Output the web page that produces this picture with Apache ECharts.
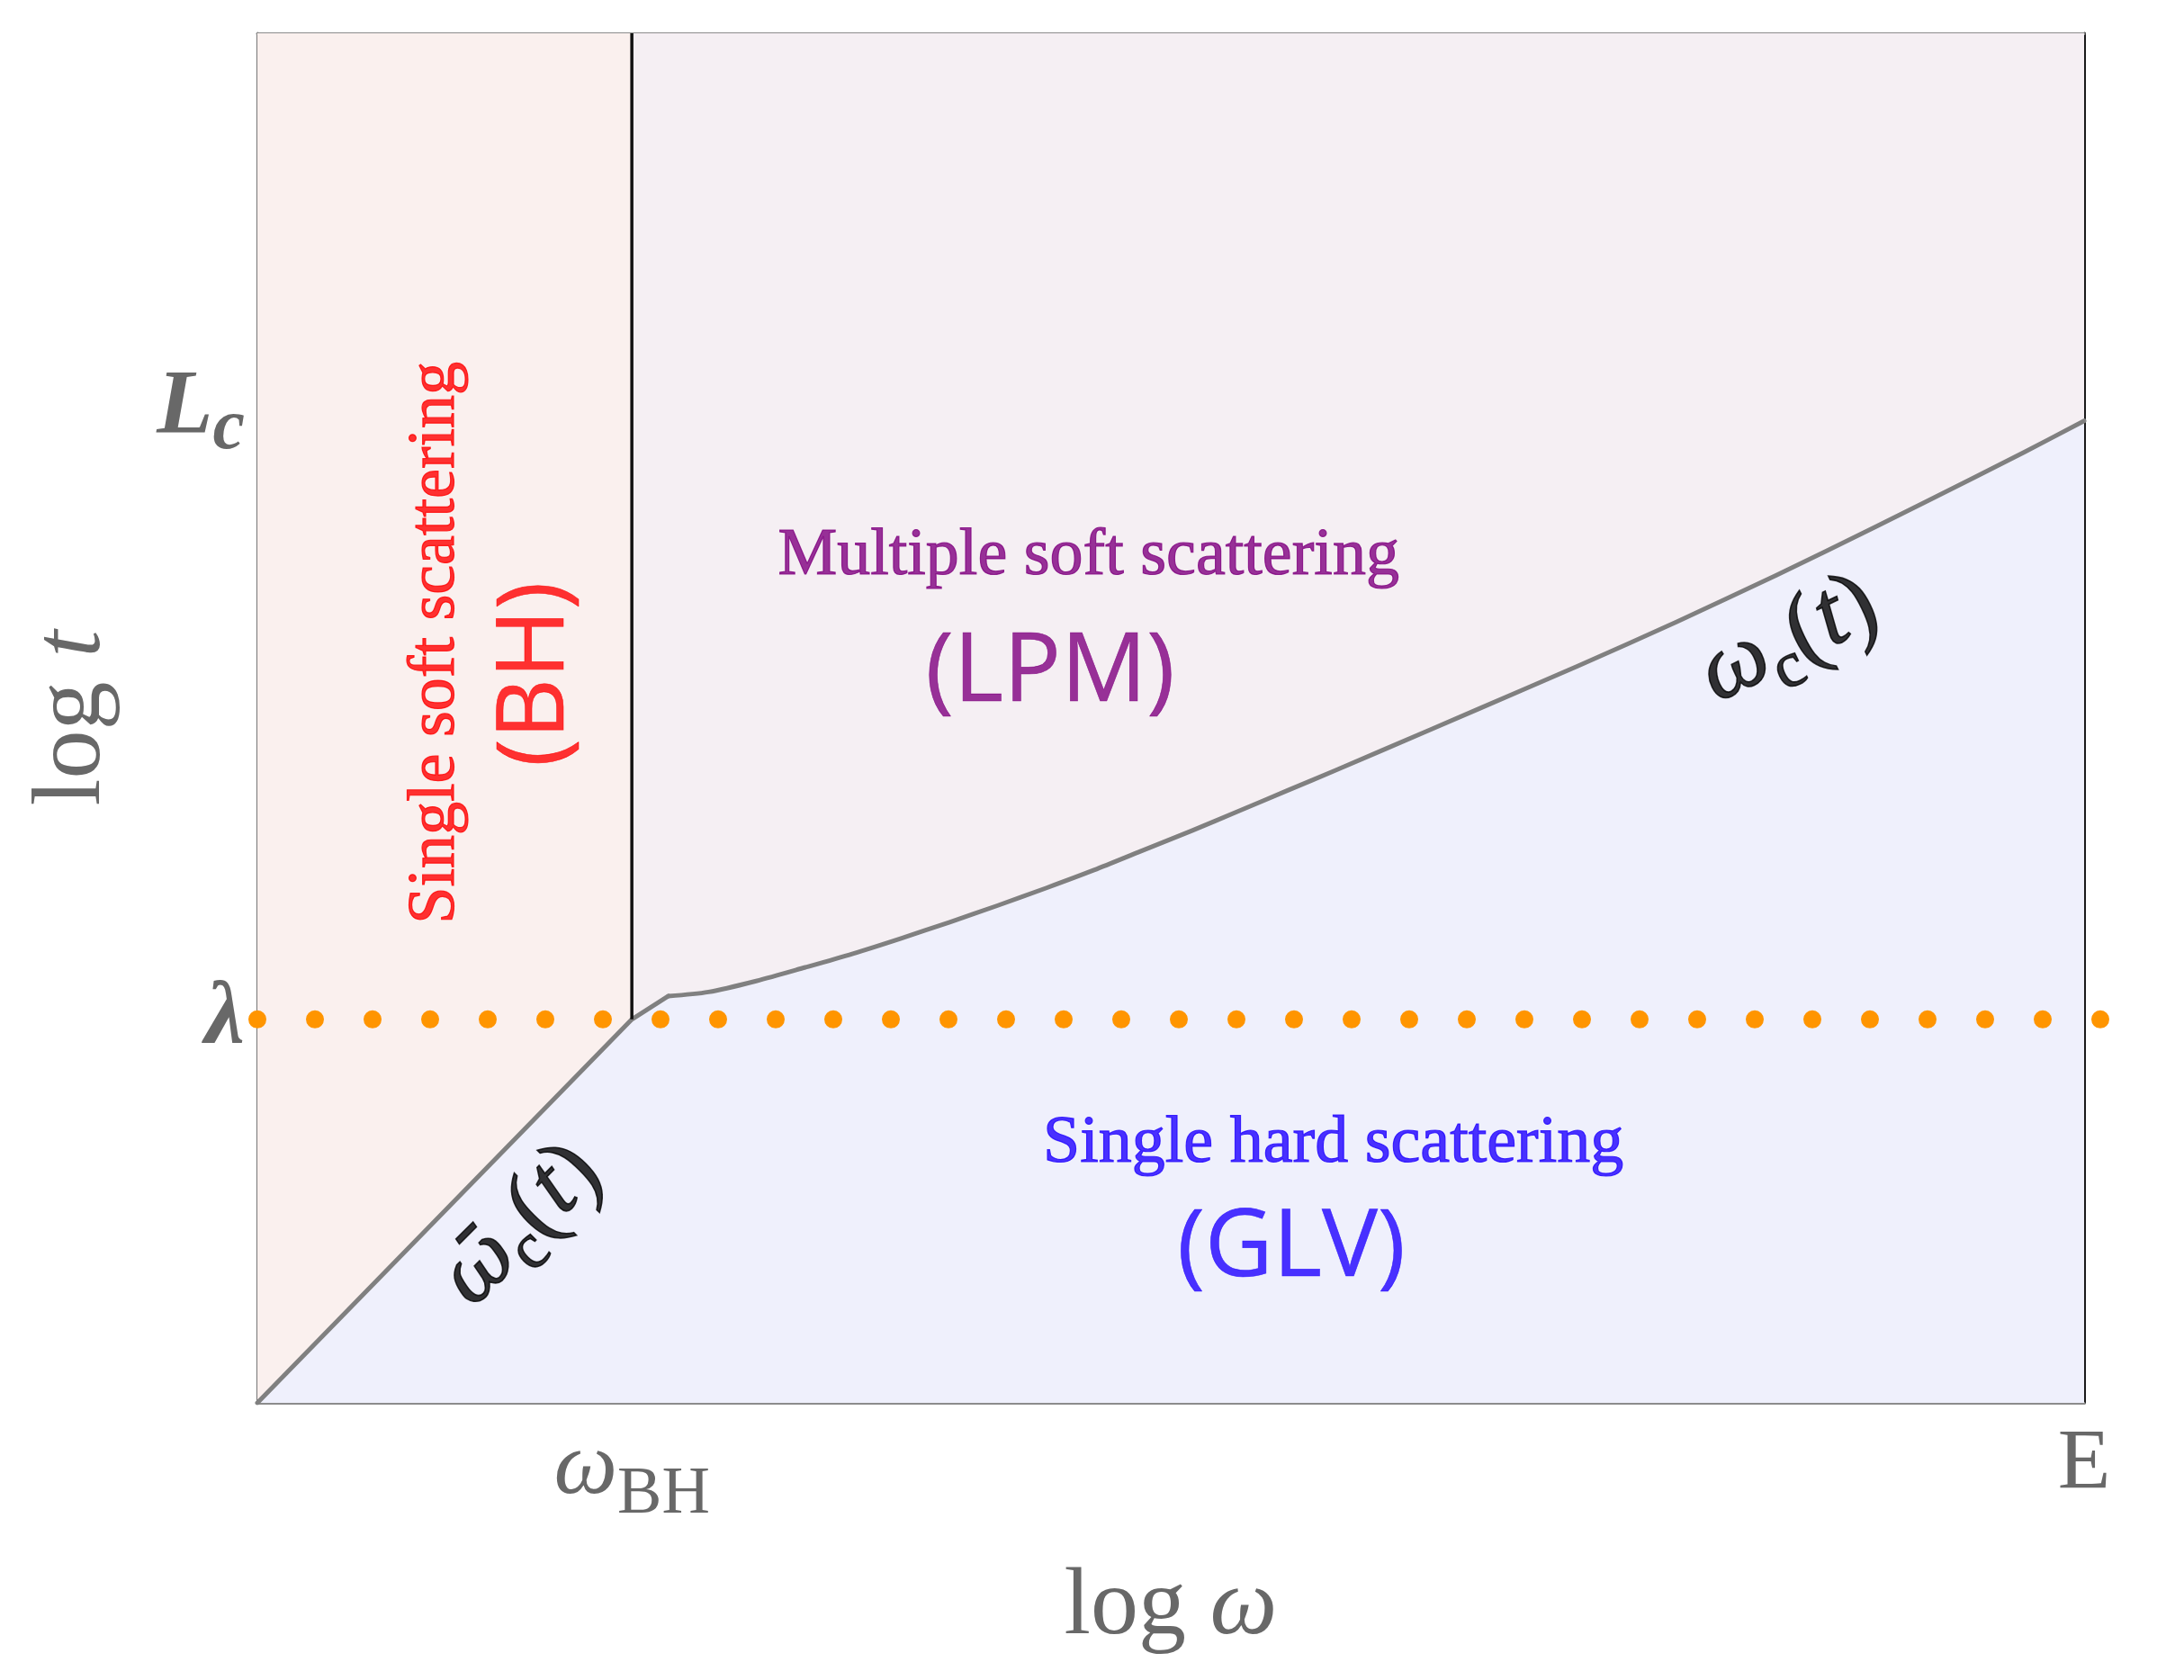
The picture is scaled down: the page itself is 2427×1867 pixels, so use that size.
<!DOCTYPE html>
<html>
<head>
<meta charset="utf-8">
<script src="https://cdn.jsdelivr.net/npm/echarts@6/dist/echarts.min.js"></script>
<style>
  html, body { margin: 0; padding: 0; background: #ffffff; }
  #chart { width: 2427px; height: 1867px; }
</style>
</head>
<body>
<div id="chart"></div>
<script>
// Scales of the (log ω, log t) plane
const OMEGA_BH = 20.5;   // Bethe–Heitler frequency
const E_MAX = 100;       // parton energy E
const LAMBDA = 28.0;     // mean free path λ
const L_C = 71.7;        // coherence length L_c
const T_MAX = 100;

// ω̄_c(t) below λ: straight up to the kink just past ω_BH
const kneeLogOmega = [0, 20.5, 22.5];
const kneeLogT = [0, 28.0, 29.7];

// ω_c(t) above λ, from the kink up to (E, L_c)
const wcLogOmega = [22.5, 24.7, 27.3, 30.0, 32.6, 35.2, 37.9, 40.5, 43.2, 45.8, 48.4, 51.1,
  53.7, 56.4, 59.0, 64.2, 69.6, 75.0, 80.4, 85.9, 91.2, 96.7, 100];
const wcLogT = [29.7, 30.0, 30.8, 31.8, 32.8, 33.9, 35.1, 36.3, 37.6, 38.9, 40.3, 41.75,
  43.2, 44.72, 46.17, 49.15, 52.25, 55.4, 58.7, 62.2, 65.7, 69.4, 71.7];

// BH / LPM separation at ω = ω_BH, from t = λ upward
const bhEdgeLogOmega = [OMEGA_BH, OMEGA_BH];
const bhEdgeLogT = [LAMBDA, T_MAX];

// dotted λ level, running a little past E
const LAMBDA_END = 101.4;
const lambdaLogOmega = [0, LAMBDA_END];

// axis tick labels
const xTickValues = [OMEGA_BH, E_MAX];
const xTickTexts = ['{w|ω}{s|BH}', '{e|E}'];
const yTickValues = [LAMBDA, L_C];
const yTickTexts = ['{l|λ}', '{L|L}{c|c}'];

// regime names
const regionTexts = ['Single soft scattering', '(BH)', 'Multiple soft scattering', '(LPM)',
  'Single hard scattering', '(GLV)'];
const curveTexts = ['{w|ω}{c|c}{p|(}{t|t}{p|)}', '{w|ω\u0304}{c|c}{p|(}{t|t}{p|)}'];

const serif = '"Liberation Serif", "DejaVu Serif", serif';
const sans = '"Open Sans", "Noto Sans", sans-serif';
const axisGray = '#686868';

const pink = '#faf0ee';
const mauve = '#f5eff3';
const lavender = '#eff0fc';

const zip = (a, b) => a.map((v, i) => [v, b[i]]);

const GRID_LEFT = 286, GRID_RIGHT = 111, GRID_TOP = 37, GRID_BOTTOM = 308;
const PLOT_W = 2427 - GRID_LEFT - GRID_RIGHT;
// overlay grid for the λ dots: same scale, extended to the right so the row can pass E
const OVERLAY_RIGHT = 2427 - GRID_LEFT - Math.round(PLOT_W * LAMBDA_END / E_MAX) - 4;
const OVERLAY_MAX = E_MAX * (2427 - GRID_LEFT - OVERLAY_RIGHT) / PLOT_W;

function mathTokens(omegaFont, omegaSize) {
  const base = { color: '#000', textBorderColor: '#000', textBorderWidth: 1.6, verticalAlign: 'bottom' };
  return {
    w: Object.assign({ fontFamily: omegaFont, fontStyle: 'italic', fontSize: omegaSize, lineHeight: 104, padding: [0, 0, 14, 0] }, base),
    c: Object.assign({ fontFamily: serif, fontSize: 72, lineHeight: 72 }, base),
    p: Object.assign({ fontFamily: serif, fontSize: 108, lineHeight: 108, padding: [0, 0, 10, 0] }, base),
    t: Object.assign({ fontFamily: serif, fontStyle: 'italic', fontSize: 104, lineHeight: 104, padding: [0, 0, 14, 0] }, base)
  };
}

function regionLabel(text, family, size, color, rotate, border) {
  return {
    formatter: text, rotate: rotate || 0, fontFamily: family, fontSize: size, color: color,
    textBorderColor: color, textBorderWidth: border
  };
}

const hiddenAxis = { show: false, axisLine: { show: false }, axisTick: { show: false }, axisLabel: { show: false }, splitLine: { show: false } };

const chart = echarts.init(document.getElementById('chart'), null, { renderer: 'canvas' });

chart.setOption({
  animation: false,
  backgroundColor: '#ffffff',
  grid: [
    { left: GRID_LEFT, right: GRID_RIGHT, top: GRID_TOP, bottom: GRID_BOTTOM, containLabel: false },
    { left: GRID_LEFT, right: OVERLAY_RIGHT, top: GRID_TOP, bottom: GRID_BOTTOM, containLabel: false }
  ],
  xAxis: [{
    type: 'value', min: 0, max: E_MAX, position: 'bottom', gridIndex: 0,
    name: 'log {i|ω}',
    nameLocation: 'middle', nameGap: 175,
    nameTextStyle: {
      fontFamily: serif, fontSize: 106, color: axisGray,
      rich: { i: { fontFamily: serif, fontStyle: 'italic', fontSize: 106, color: axisGray } }
    },
    axisLine: { show: true, onZero: false, lineStyle: { color: '#8c8c8c', width: 3 } },
    axisTick: { show: true, inside: true, length: 17, customValues: [OMEGA_BH], lineStyle: { color: '#7a7a7a', width: 2 } },
    axisLabel: {
      show: true, margin: 40, customValues: xTickValues,
      formatter: (v) => xTickTexts[xTickValues.indexOf(v)],
      rich: {
        w: { fontFamily: serif, fontStyle: 'italic', fontSize: 100, lineHeight: 100, color: axisGray, verticalAlign: 'bottom', padding: [0, 0, 16, 0] },
        s: { fontFamily: serif, fontSize: 74, lineHeight: 74, color: axisGray, verticalAlign: 'bottom' },
        e: { fontFamily: serif, fontSize: 96, lineHeight: 60, color: axisGray }
      }
    },
    splitLine: { show: false }
  }, {
    type: 'value', min: 0, max: E_MAX, position: 'top', gridIndex: 0,
    axisLine: { show: true, onZero: false, lineStyle: { color: '#8c8c8c', width: 3 } },
    axisTick: { show: false }, axisLabel: { show: false }, splitLine: { show: false }
  }, Object.assign({ type: 'value', min: 0, max: OVERLAY_MAX, gridIndex: 1 }, hiddenAxis)],
  yAxis: [{
    type: 'value', min: 0, max: T_MAX, position: 'left', gridIndex: 0,
    name: 'log {i|t}',
    nameLocation: 'middle', nameGap: 150, nameRotate: 90,
    nameTextStyle: {
      fontFamily: serif, fontSize: 108, color: axisGray,
      rich: { i: { fontFamily: serif, fontStyle: 'italic', fontSize: 108, color: axisGray } }
    },
    axisLine: { show: true, onZero: false, lineStyle: { color: '#767676', width: 3 } },
    axisTick: { show: true, inside: true, length: 15, customValues: yTickValues, lineStyle: { color: '#7a7a7a', width: 2 } },
    axisLabel: {
      show: true, margin: 14, customValues: yTickValues,
      formatter: (v) => yTickTexts[yTickValues.indexOf(v)],
      rich: {
        l: { fontFamily: serif, fontStyle: 'italic', fontWeight: 'bold', fontSize: 100, lineHeight: 100, color: axisGray },
        L: { fontFamily: serif, fontStyle: 'italic', fontWeight: 'bold', fontSize: 102, lineHeight: 100, color: axisGray, verticalAlign: 'bottom', padding: [0, 0, 12, 0] },
        c: { fontFamily: serif, fontStyle: 'italic', fontWeight: 'bold', fontSize: 80, lineHeight: 78, color: axisGray, verticalAlign: 'bottom' }
      }
    },
    splitLine: { show: false }
  }, {
    type: 'value', min: 0, max: T_MAX, position: 'right', gridIndex: 0,
    axisLine: { show: true, onZero: false, lineStyle: { color: '#1a1a1a', width: 3 } },
    axisTick: { show: false }, axisLabel: { show: false }, splitLine: { show: false }
  }, Object.assign({ type: 'value', min: 0, max: T_MAX, gridIndex: 1 }, hiddenAxis)],
  series: [
    {
      // regime backgrounds: BH strip and the soft-scattering area
      type: 'line', data: [], silent: true, z: 0,
      markArea: {
        silent: true,
        data: [
          [{ coord: [0, 0], itemStyle: { color: pink } }, { coord: [OMEGA_BH, T_MAX] }],
          [{ coord: [OMEGA_BH, 0], itemStyle: { color: mauve } }, { coord: [E_MAX, T_MAX] }]
        ]
      }
    },
    {
      // single hard scattering region, filled under the boundary
      name: 'hard region', type: 'line', silent: true, z: 1,
      data: zip(kneeLogOmega, kneeLogT).concat(zip(wcLogOmega, wcLogT).slice(1)),
      showSymbol: false, symbol: 'none',
      lineStyle: { width: 0, opacity: 0 },
      areaStyle: { color: lavender, opacity: 1 }
    },
    {
      name: 'omega bar c', type: 'line', silent: true, z: 2,
      data: zip(kneeLogOmega, kneeLogT),
      showSymbol: false, symbol: 'none',
      lineStyle: { color: '#808080', width: 5, join: 'round', cap: 'round' }
    },
    {
      name: 'omega c', type: 'line', silent: true, z: 2,
      data: zip(wcLogOmega, wcLogT),
      smooth: 0.3,
      showSymbol: false, symbol: 'none',
      lineStyle: { color: '#808080', width: 5, join: 'round', cap: 'round' }
    },
    {
      name: 'bh edge', type: 'line', silent: true, z: 3,
      data: zip(bhEdgeLogOmega, bhEdgeLogT),
      showSymbol: false, symbol: 'none',
      lineStyle: { color: '#111111', width: 3.5 }
    },
    {
      name: 'lambda', type: 'line', silent: true, z: 4, clip: false,
      xAxisIndex: 2, yAxisIndex: 2,
      data: zip(lambdaLogOmega, [LAMBDA, LAMBDA]),
      showSymbol: false, symbol: 'none',
      lineStyle: { color: '#ff9500', width: 20, type: [0, 64], cap: 'round' }
    },
    {
      // regime names and curve labels
      type: 'scatter', silent: true, z: 5,
      symbolSize: 1, itemStyle: { color: 'rgba(0,0,0,0)' },
      label: { show: true, position: 'inside' },
      data: [
        { value: [9.8, 55.5], label: regionLabel(regionTexts[0], serif, 74, '#ff0000', 90, 1.2) },
        { value: [15.3, 53.2], label: regionLabel(regionTexts[1], sans, 104, '#ff0000', 90, 0.6) },
        { value: [45.5, 61.8], label: regionLabel(regionTexts[2], serif, 74, '#800080', 0, 1.2) },
        { value: [43.4, 53.2], label: regionLabel(regionTexts[3], sans, 106, '#800080', 0, 0.6) },
        { value: [58.9, 18.9], label: regionLabel(regionTexts[4], serif, 74, '#1e00ff', 0, 1.2) },
        { value: [56.6, 11.2], label: regionLabel(regionTexts[5], sans, 104, '#1e00ff', 0, 0.6) },
        { value: [84.1, 55.0], label: { formatter: curveTexts[0], rotate: 26, rich: mathTokens(serif, 104) } },
        { value: [14.8, 12.5], label: { formatter: curveTexts[1], rotate: 45, rich: mathTokens('"DejaVu Serif", serif', 92) } }
      ]
    }
  ]
});
</script>
</body>
</html>
